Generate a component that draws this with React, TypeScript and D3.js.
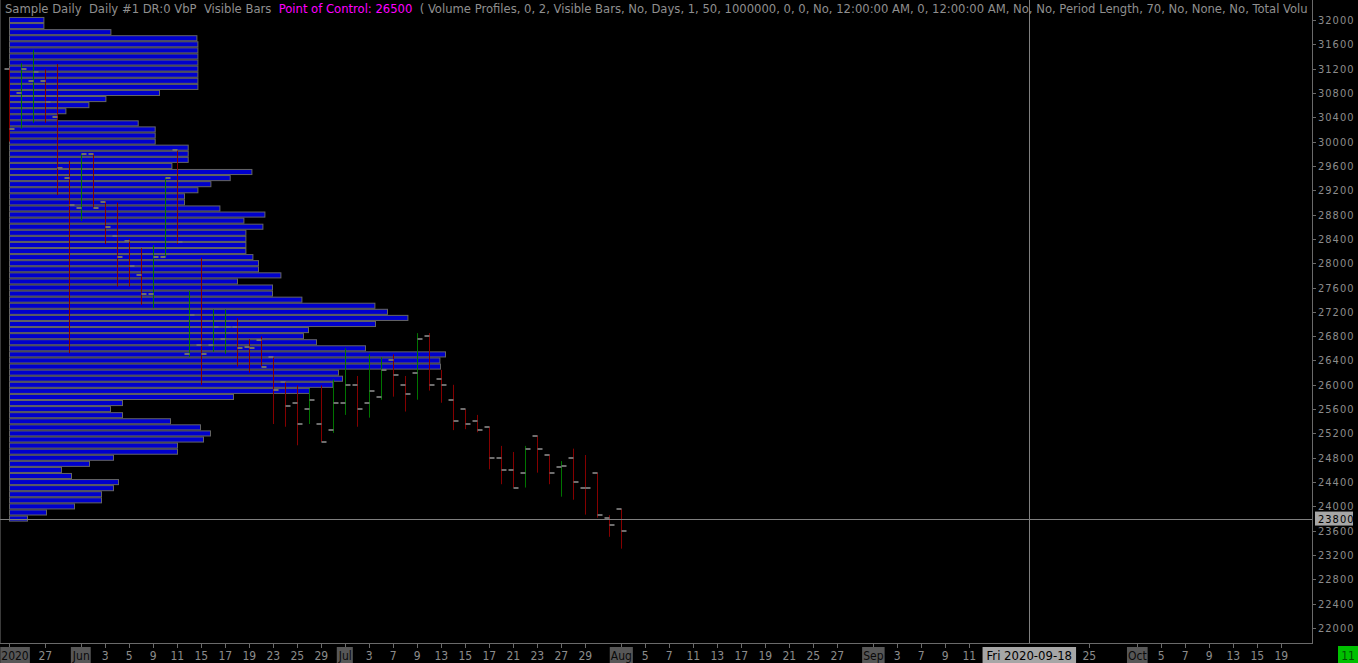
import React, { useEffect, useRef } from 'react';
import * as d3 from 'd3';

const WIDTH = 1358;
const HEIGHT = 663;

// Volume by price rows (100 points per row)
const profilePrices = [
  32000, 31900, 31800, 31700, 31600, 31500, 31400, 31300, 31200, 31100,
  31000, 30900, 30800, 30700, 30600, 30500, 30400, 30300, 30200, 30100,
  30000, 29900, 29800, 29700, 29600, 29500, 29400, 29300, 29200, 29100,
  29000, 28900, 28800, 28700, 28600, 28500, 28400, 28300, 28200, 28100,
  28000, 27900, 27800, 27700, 27600, 27500, 27400, 27300, 27200, 27100,
  27000, 26900, 26800, 26700, 26600, 26500, 26400, 26300, 26200, 26100,
  26000, 25900, 25800, 25700, 25600, 25500, 25400, 25300, 25200, 25100,
  25000, 24900, 24800, 24700, 24600, 24500, 24400, 24300, 24200, 24100,
  24000, 23900, 23800,
];
const profileVolumes = [
  344, 344, 1014, 1874, 1884, 1884, 1884, 1884, 1884, 1884,
  1884, 1884, 1500, 964, 794, 564, 480, 1287, 1457, 1457,
  1457, 1787, 1787, 1787, 1624, 2424, 2207, 2014, 1884, 1750,
  1750, 2104, 2554, 2344, 2534, 2364, 2364, 2364, 2364, 2434,
  2490, 2490, 2714, 2280, 2630, 2630, 2924, 3654, 3780, 3984,
  3660, 2990, 2940, 3070, 3560, 4360, 4304, 4310, 3290, 3330,
  3234, 3000, 2240, 1130, 1010, 1130, 1610, 1910, 2010, 1940,
  1680, 1680, 1040, 800, 520, 620, 1090, 1040, 920, 920,
  650, 370, 180,
];
const pointOfControl = 26500;

// Daily OHLC bars
const candleDates = [
  '2020-05-22', '2020-05-25', '2020-05-26', '2020-05-27', '2020-05-28', '2020-05-29',
  '2020-06-01', '2020-06-02', '2020-06-03', '2020-06-04', '2020-06-05', '2020-06-08',
  '2020-06-09', '2020-06-10', '2020-06-11', '2020-06-12', '2020-06-15', '2020-06-16',
  '2020-06-17', '2020-06-18', '2020-06-19', '2020-06-22', '2020-06-23', '2020-06-24',
  '2020-06-25', '2020-06-26', '2020-06-29', '2020-06-30', '2020-07-01', '2020-07-02',
  '2020-07-03', '2020-07-06', '2020-07-07', '2020-07-08', '2020-07-09', '2020-07-10',
  '2020-07-13', '2020-07-14', '2020-07-15', '2020-07-16', '2020-07-17', '2020-07-20',
  '2020-07-21', '2020-07-22', '2020-07-23', '2020-07-24', '2020-07-27', '2020-07-28',
  '2020-07-29', '2020-07-30', '2020-07-31', '2020-08-03',
];
const candleOpen = [
  31200, 30800, 31000, 31000, 30405, 29405, 28915, 29795, 29005, 28450, 28360, 27805,
  27495, 28100, 29855, 26510, 26660, 26660, 26760, 26950, 26620, 26740, 26460, 26045,
  25705, 25605, 25355, 25260, 25705, 26000, 25705, 25805, 26410, 26000, 26200, 26805,
  26100, 25755, 25600, 25410, 25310, 24800, 24605, 24555, 25165, 24850, 24650, 24800,
  24310, 24555, 23815, 23960,
];
const candleHigh = [
  31210, 31290, 31510, 31190, 31275, 29685, 29805, 29800, 29010, 29000, 28400, 28245,
  28295, 29405, 29860, 27545, 28090, 27240, 27240, 27095, 26750, 26795, 26460, 26045,
  25990, 25940, 25990, 26090, 26600, 26145, 26500, 26450, 26500, 26145, 26850, 26850,
  26245, 26000, 25600, 25505, 25310, 24995, 24895, 24995, 25165, 24855, 24745, 24950,
  24845, 24555, 23855, 23960,
];
const candleLow = [
  30000, 30210, 30310, 30310, 29120, 26520, 28695, 28905, 28315, 27615, 27615, 27315,
  27260, 28100, 28315, 26460, 26000, 26545, 26510, 26300, 26200, 26300, 25355, 25310,
  25005, 25355, 25060, 25210, 25505, 25310, 25460, 25755, 25805, 25560, 25755, 25905,
  25705, 25255, 25270, 25220, 24610, 24365, 24310, 24310, 24555, 24365, 24160, 24110,
  23865, 23815, 23500, 23305,
];
const candleClose = [
  30210, 31195, 31150, 30650, 29560, 28960, 29795, 28915, 28595, 28100, 27955, 27495,
  28100, 29405, 28350, 27150, 26510, 26955, 26955, 26610, 26600, 26300, 25915, 25650,
  25355, 25750, 25060, 25705, 26000, 25605, 25900, 26250, 26155, 25850, 26755, 26000,
  26000, 25410, 25360, 25260, 24800, 24605, 24310, 24950, 24950, 24555, 24660, 24405,
  24300, 23865, 23700, 23600,
];

// Axis labels
const priceTicks = [
  32000, 31600, 31200, 30800, 30400, 30000, 29600, 29200, 28800, 28400, 28000, 27600, 27200,
  26800, 26400, 26000, 25600, 25200, 24800, 24400, 24000, 23600, 23200, 22800, 22400, 22000,
];
const dayTickDates = [
  '2020-05-27', '2020-06-03', '2020-06-05', '2020-06-09', '2020-06-11', '2020-06-15',
  '2020-06-17', '2020-06-19', '2020-06-23', '2020-06-25', '2020-06-29', '2020-07-03',
  '2020-07-07', '2020-07-09', '2020-07-13', '2020-07-15', '2020-07-17', '2020-07-21',
  '2020-07-23', '2020-07-27', '2020-07-29', '2020-08-05', '2020-08-07', '2020-08-11',
  '2020-08-13', '2020-08-17', '2020-08-19', '2020-08-21', '2020-08-25', '2020-08-27',
  '2020-09-03', '2020-09-07', '2020-09-09', '2020-09-11', '2020-09-25', '2020-10-05',
  '2020-10-07', '2020-10-09', '2020-10-13', '2020-10-15', '2020-10-19',
];
const monthTickDates = ['2020-05-22', '2020-06-01', '2020-07-01', '2020-08-03', '2020-09-01', '2020-10-01'];
const monthTickLabels = ['2020', 'Jun', 'Jul', 'Aug', 'Sep', 'Oct'];
const cursorDate = '2020-09-18';
const cursorDateLabel = 'Fri 2020-09-18';
const cursorPrice = 23800;
const lastBarCountdown = '11';

// study header, as much of it as fits before the price scale
const titleParts = [
  'Sample Daily  Daily #1 DR:0 VbP  Visible Bars  ',
  `Point of Control: ${pointOfControl}`,
  '  ( Volume Profiles, 0, 2, Visible Bars, No, Days, 1, 50, 1000000, 0, 0, No, 12:00:00 AM, 0, 12:00:00 AM, No, No, Period Length, 70, No, None, No, Total Volu',
];

const FONT = '"DejaVu Sans Condensed", "DejaVu Sans", sans-serif';

const App: React.FC = () => {
  const svgRef = useRef<SVGSVGElement>(null);

  useEffect(() => {
    if (!svgRef.current) return;
    const svg = d3.select(svgRef.current);
    svg.selectAll('*').remove();

    const plotRight = 1312;
    const plotBottom = 643;

    // weekday calendar used by the time axis (future days keep the spacing)
    const fmt = d3.utcFormat('%Y-%m-%d');
    const days = d3.utcDay
      .range(new Date(Date.UTC(2020, 4, 22)), new Date(Date.UTC(2020, 9, 27)))
      .filter(d => d.getUTCDay() % 6 !== 0)
      .map(fmt);
    const barSpacing = 12;
    const x = d3.scalePoint<string>()
      .domain(days)
      .range([9.3, 9.3 + barSpacing * (days.length - 1)]);

    const y = d3.scaleLinear().domain([22000, 32000]).range([628, 20]);
    const rowH = y(0) - y(100);

    const vol = d3.scaleLinear()
      .domain([0, d3.max(profileVolumes) as number])
      .range([0, 436]);

    svg.append('defs').append('clipPath').attr('id', 'plot-clip')
      .append('rect').attr('x', 0).attr('y', 0).attr('width', plotRight).attr('height', plotBottom);

    const plot = svg.append('g').attr('clip-path', 'url(#plot-clip)');

    // volume profile
    plot.selectAll('.vbp')
      .data(profilePrices)
      .enter().append('rect')
      .attr('class', 'vbp')
      .attr('x', 9.5)
      .attr('y', p => y(p) - rowH / 2 + 0.5)
      .attr('width', (p, i) => vol(profileVolumes[i]))
      .attr('height', rowH - 1)
      .attr('fill', '#0000cc')
      .attr('stroke', '#646464')
      .attr('stroke-width', 1);

    // OHLC bars
    const bars = candleDates.map((d, i) => ({
      date: d, o: candleOpen[i], h: candleHigh[i], l: candleLow[i], c: candleClose[i],
    }));
    const px = (d: string) => Math.round(x(d) as number) + 0.5;

    plot.selectAll('.hl')
      .data(bars)
      .enter().append('line')
      .attr('class', 'hl')
      .attr('x1', d => px(d.date))
      .attr('x2', d => px(d.date))
      .attr('y1', d => y(d.h))
      .attr('y2', d => y(d.l))
      .attr('stroke', d => (d.c >= d.o ? '#007400' : '#850000'))
      .attr('stroke-width', 1);

    plot.selectAll('.open')
      .data(bars)
      .enter().append('rect')
      .attr('class', 'open')
      .attr('x', d => px(d.date) - 5)
      .attr('y', d => Math.round(y(d.o)) - 1)
      .attr('width', 5)
      .attr('height', 2)
      .attr('fill', '#6e6e6e');

    plot.selectAll('.close')
      .data(bars)
      .enter().append('rect')
      .attr('class', 'close')
      .attr('x', d => px(d.date))
      .attr('y', d => Math.round(y(d.c)) - 1)
      .attr('width', 5)
      .attr('height', 2)
      .attr('fill', '#6e6e6e');

    // frame
    svg.append('line')
      .attr('x1', 0.5).attr('x2', 0.5).attr('y1', 0).attr('y2', plotBottom)
      .attr('stroke', '#3a3a3a');
    svg.append('line')
      .attr('x1', 0).attr('x2', plotRight + 1).attr('y1', plotBottom + 0.5).attr('y2', plotBottom + 0.5)
      .attr('stroke', '#6a6a6a');
    svg.append('line')
      .attr('x1', plotRight + 0.5).attr('x2', plotRight + 0.5).attr('y1', 0).attr('y2', plotBottom + 1)
      .attr('stroke', '#6a6a6a');

    // crosshair
    const cx = Math.round(x(cursorDate) as number) + 0.5;
    const cy = Math.round(y(cursorPrice)) + 0.5;
    svg.append('line')
      .attr('x1', cx).attr('x2', cx).attr('y1', 0).attr('y2', plotBottom)
      .attr('stroke', '#7f7f7f');
    svg.append('line')
      .attr('x1', 0).attr('x2', plotRight).attr('y1', cy).attr('y2', cy)
      .attr('stroke', '#7f7f7f');

    // price axis
    const yAxis = svg.append('g').attr('font-family', FONT);
    yAxis.selectAll('.ptick')
      .data(priceTicks)
      .enter().append('line')
      .attr('x1', plotRight).attr('x2', plotRight + 4)
      .attr('y1', p => Math.round(y(p)) + 0.5)
      .attr('y2', p => Math.round(y(p)) + 0.5)
      .attr('stroke', '#6a6a6a');
    yAxis.selectAll('.plabel')
      .data(priceTicks)
      .enter().append('text')
      .attr('x', 1318)
      .attr('y', p => y(p) + 4)
      .attr('fill', '#8c8c8c')
      .attr('font-size', 11)
      .attr('letter-spacing', 1)
      .text(p => p);

    const priceBox = yAxis.append('g').attr('transform', `translate(1315,${y(cursorPrice)})`);
    priceBox.append('rect')
      .attr('x', 0).attr('y', -7).attr('width', 38).attr('height', 14)
      .attr('fill', '#a6a6a6');
    priceBox.append('text')
      .attr('x', 3).attr('y', 4)
      .attr('fill', '#000')
      .attr('font-size', 11)
      .attr('letter-spacing', 1)
      .text(cursorPrice);

    // time axis
    const xAxis = svg.append('g').attr('font-family', FONT).attr('font-size', 12);
    const allTicks = [...dayTickDates, ...monthTickDates];
    xAxis.selectAll('.dtick')
      .data(allTicks)
      .enter().append('line')
      .attr('x1', d => px(d)).attr('x2', d => px(d))
      .attr('y1', plotBottom).attr('y2', plotBottom + 5)
      .attr('stroke', '#6a6a6a');
    xAxis.selectAll('.dlabel')
      .data(dayTickDates)
      .enter().append('text')
      .attr('x', d => x(d) as number)
      .attr('y', 660)
      .attr('text-anchor', 'middle')
      .attr('fill', '#8c8c8c')
      .text(d => String(+d.slice(8)));

    // boxed month labels; the first one is kept inside the left edge
    const month = xAxis.selectAll('.mlabel')
      .data(monthTickDates)
      .enter().append('g')
      .attr('transform', d => `translate(${Math.max(x(d) as number, 15)},0)`);
    month.append('text')
      .attr('y', 660)
      .attr('text-anchor', 'middle')
      .attr('fill', '#0a0a0a')
      .text((d, i) => monthTickLabels[i])
      .each(function () {
        const bb = (this as SVGTextElement).getBBox();
        d3.select((this as SVGTextElement).parentNode as SVGGElement)
          .insert('rect', 'text')
          .attr('x', bb.x - 1).attr('y', 647)
          .attr('width', bb.width + 2).attr('height', 16)
          .attr('fill', '#575757');
      });

    const cursorBox = xAxis.append('g').attr('transform', `translate(${x(cursorDate)},0)`);
    const ct = cursorBox.append('text')
      .attr('y', 660)
      .attr('text-anchor', 'middle')
      .attr('fill', '#000')
      .attr('font-size', 13)
      .text(cursorDateLabel);
    const cbb = (ct.node() as SVGTextElement).getBBox();
    cursorBox.insert('rect', 'text')
      .attr('x', cbb.x - 4).attr('y', 647)
      .attr('width', cbb.width + 8).attr('height', 16)
      .attr('fill', '#a6a6a6');

    const countdown = xAxis.append('g').attr('transform', 'translate(1338,0)');
    countdown.append('rect')
      .attr('x', 0).attr('y', 646).attr('width', 20).attr('height', 17)
      .attr('fill', '#00c000');
    countdown.append('text')
      .attr('x', 10).attr('y', 660)
      .attr('text-anchor', 'middle')
      .attr('fill', '#005000')
      .text(lastBarCountdown);

    // title
    const title = svg.append('text')
      .attr('x', 5).attr('y', 13)
      .attr('font-family', FONT)
      .attr('font-size', 12.9)
      .style('white-space', 'pre');
    title.append('tspan').attr('fill', '#8f8f8f').text(titleParts[0]);
    title.append('tspan').attr('fill', '#ff00ff').text(titleParts[1]);
    title.append('tspan').attr('fill', '#8f8f8f').text(titleParts[2]);
  }, []);

  return (
    <div style={{ width: WIDTH, height: HEIGHT, background: '#000' }}>
      <style>{'body{margin:0;background:#000;}'}</style>
      <svg ref={svgRef} width={WIDTH} height={HEIGHT} style={{ display: 'block' }} />
    </div>
  );
};

export default App;
